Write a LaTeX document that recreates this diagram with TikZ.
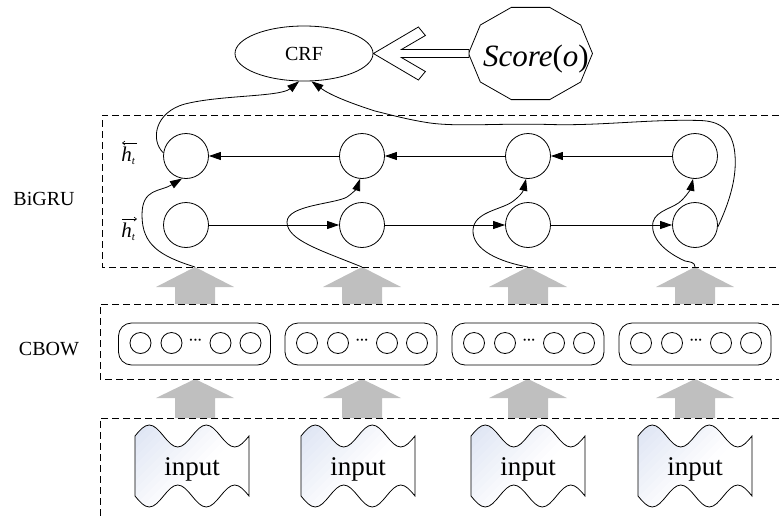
\documentclass[tikz,border=0pt]{standalone}
\usepackage{fontspec}
\setmainfont{Liberation Serif}
\usetikzlibrary{shapes.geometric,arrows.meta,calc}
\definecolor{tapeblue}{HTML}{DDE4F3}
\begin{document}
\begin{tikzpicture}[x=1pt,y=-1pt,line width=0.8pt,
  cell/.style={circle,draw,minimum size=45pt,inner sep=0pt},
  arr/.style={-{Triangle[length=12pt,width=8pt]}},
  harr/.style={-{Straight Barb[length=2.5pt,width=4pt]},line width=0.6pt},
  dbox/.style={dash pattern=on 7pt off 4pt},
  gfill/.style={fill=black!25},
  emb/.style={draw,rounded corners=13pt,minimum width=152pt,minimum height=42pt,inner sep=0pt},
  unit/.style={circle,draw,minimum size=21pt,inner sep=0pt},
  lbl/.style={font=\fontsize{20}{24}\selectfont},
  hlbl/.style={font=\fontsize{21}{24}\selectfont,inner sep=0pt},
  intext/.style={font=\fontsize{27}{30}\selectfont,anchor=base}]
\useasboundingbox (0,0) rectangle (779,517);

% gray block arrows
\foreach \x [count=\i] in {195,362,528,695}{
  \coordinate (g\i) at (\x,267);
  \coordinate (k\i) at (\x,379);
  \fill[gfill] (g\i) -- ++(39,20) -- ++(-19,0) -- ++(0,17) -- ++(-40,0) -- ++(0,-17) -- ++(-19,0) -- cycle;
  \fill[gfill] (k\i) -- ++(39,19) -- ++(-19,0) -- ++(0,20) -- ++(-40,0) -- ++(0,-20) -- ++(-19,0) -- cycle;
}

% dashed layer boxes
\draw[dbox] (779,115) -- (102,115) -- (102,267) -- (779,267);
\draw[dbox] (779,304) -- (100,304) -- (100,379) -- (779,379);
\draw[dbox] (779,418) -- (100,418) -- (100,517);

% layer labels
\node[lbl,anchor=base] (lbigru) at (44,205) {BiGRU};
\node[lbl,anchor=base] (lcbow) at (49,355) {CBOW};
\node[hlbl,anchor=base west] (lhb) at (121,161) {\textit{h}\raisebox{-3pt}{\fontsize{11}{11}\selectfont\textit{t}}};
\node[hlbl,anchor=base west] (lhf) at (121,237) {\textit{h}\raisebox{-3pt}{\fontsize{11}{11}\selectfont\textit{t}}};
\draw[harr] ($(lhb.north west)+(16,-3)$) -- ($(lhb.north west)+(1,-3)$);
\draw[harr] ($(lhf.north west)+(1,-3)$) -- ($(lhf.north west)+(16,-3)$);

% GRU cells
\foreach \x [count=\i] in {186,362,528,695}{
  \node[cell] (hb\i) at (\x,156) {};
  \node[cell] (hf\i) at (\x,225) {};
}
\draw[arr] (hb4) -- (hb3);
\draw[arr] (hb3) -- (hb2);
\draw[arr] (hb2) -- (hb1);
\draw[arr] (hf1) -- (hf2);
\draw[arr] (hf2) -- (hf3);
\draw[arr] (hf3) -- (hf4);

% CBOW embeddings
\foreach \x [count=\i] in {194.5,361,528,695}{
  \node[emb] (e\i) at (\x,344) {};
  \foreach \o [count=\k] in {-54,-23,26,56}{
    \node[unit] (u\i\k) at ($(e\i)+(\o,-1)$) {};
  }
  \node[font=\fontsize{13}{13}\selectfont,inner sep=0pt] (d\i) at ($(e\i)+(1,-2)$) {\textbf{···}};
}

% inputs (punched-tape shapes, pale blue at top left fading to white)
\foreach \x [count=\j] in {192,358,528,695}{
  \begin{scope}[shift={(\x,466)}]
    \begin{scope}
      \clip (-57,-30) sin (-42.75,-41) cos (-28.5,-30) sin (-14.25,-19) cos (0,-30)
        sin (14.25,-41) cos (28.5,-30) sin (42.75,-19) cos (57,-30)
        -- (57,30) sin (42.75,19) cos (28.5,30) sin (14.25,41) cos (0,30)
        sin (-14.25,19) cos (-28.5,30) sin (-42.75,41) cos (-57,30) -- cycle;
      \fill[white] (-60,-45) rectangle (60,45);
      \foreach \m in {0,...,13}{
        \pgfmathsetmacro\ba{-98+8*\m}
        \pgfmathsetmacro\bb{\ba+8.6}
        \pgfmathtruncatemacro\pc{100-7.5*\m}
        \fill[tapeblue!\pc!white] (\ba+100,-100) -- (\ba-100,100) -- (\bb-100,100) -- (\bb+100,-100) -- cycle;
      }
    \end{scope}
    \draw (-57,-30) sin (-42.75,-41) cos (-28.5,-30) sin (-14.25,-19) cos (0,-30)
      sin (14.25,-41) cos (28.5,-30) sin (42.75,-19) cos (57,-30)
      -- (57,30) sin (42.75,19) cos (28.5,30) sin (14.25,41) cos (0,30)
      sin (-14.25,19) cos (-28.5,30) sin (-42.75,41) cos (-57,30) -- cycle;
  \end{scope}
  \node[intext] (in\j) at (\x,475) {input};
}

% CRF and score
\node[ellipse,draw,minimum width=138pt,minimum height=55pt,inner sep=0pt,font=\fontsize{20}{24}\selectfont] (crf) at (304,53.5) {CRF};
\coordinate (sc) at (530.5,53.5);
\draw ($(sc)+(62,0)$) -- ($(sc)+(50.16,28.51)$) -- ($(sc)+(19.16,46.13)$) -- ($(sc)+(-19.16,46.13)$)
  -- ($(sc)+(-50.16,28.51)$) -- ($(sc)+(-62,0)$) -- ($(sc)+(-50.16,-28.51)$) -- ($(sc)+(-19.16,-46.13)$)
  -- ($(sc)+(19.16,-46.13)$) -- ($(sc)+(50.16,-28.51)$) -- cycle;
\node[font=\fontsize{31}{34}\selectfont,anchor=base,inner sep=0pt] (score) at (536,66.5) {\textit{Score}(\textit{o})};
\draw[fill=white] (crf.east) -- ++(45,-26.5) -- ++(7,8.5) -- ++(-24,14) -- ++(67.5,0) -- ++(0,8)
  -- ++(-67.5,0) -- ++(24,14) -- ++(-7,8.5) -- cycle;

% inputs to backward cells
\draw[arr] (g1) .. controls (160,256) and (142,245) .. (142,215) .. controls (142,188) and (160,192) .. (hb1.-100);
\draw[arr] (g2) .. controls (320,250) and (287,240) .. (287,222) .. controls (287,205) and (335,204) .. (347,197) .. controls (353,193) and (357,188) .. (hb2.-95);
\draw[arr] (g3) .. controls (500,262) and (472,250) .. (473,230) .. controls (474,212) and (500,210) .. (512,202) .. controls (519,197) and (523,192) .. (hb3.-95);
\draw[arr] (g4) .. controls (695,262) and (690,262) .. (685,261) .. controls (665,252) and (650,238) .. (653,222) .. controls (656,210) and (675,208) .. (682,200) .. controls (688,194) and (691,188) .. (hb4.-95);

% outputs to CRF
\draw[arr] (hb1.172) .. controls (150,140) and (155,112) .. (185,104) .. controls (220,95) and (280,97) .. (crf.-100);
\draw[arr] (hf4.-5) .. controls (728,205) and (737,180) .. (735,155) .. controls (733,128) and (718,121) .. (700,120.5)
  .. controls (650,119) and (600,126) .. (550,124.5) .. controls (500,123) and (460,127) .. (430,123)
  .. controls (410,120) and (395,116) .. (375,111) .. controls (350,103) and (330,95) .. (crf.-75);
\end{tikzpicture}
\end{document}
